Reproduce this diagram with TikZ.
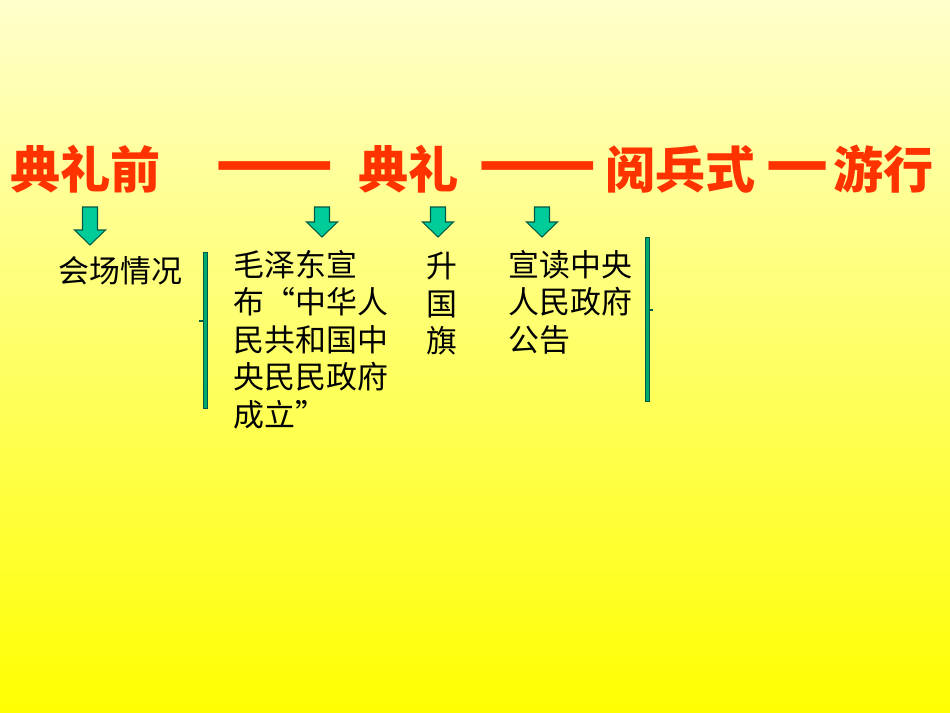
\documentclass[tikz,border=0pt]{standalone}
\usepackage{fontspec}
\newfontfamily\cjk{Noto Sans CJK SC}
\usepackage{tikz}
\usetikzlibrary{positioning,calc}
\definecolor{titlered}{RGB}{255,51,0}
\definecolor{arrowgreen}{RGB}{0,204,153}
\definecolor{arrowline}{RGB}{0,90,70}
\definecolor{bargreen}{RGB}{0,170,110}
\definecolor{bgtop}{RGB}{255,255,204}
\definecolor{bgbottom}{RGB}{255,255,0}
\newcommand\widedash[2]{\scalebox{#1}[1.55]{#2}}
\tikzset{
titletext/.style={font=\cjk\bfseries\fontsize{28.5}{30}\selectfont, text=titlered, inner sep=0pt, anchor=base west},
bodytext/.style={font=\cjk\fontsize{17.6}{21.3}\selectfont, inner sep=0pt, anchor=north west, align=left},
greenarrow/.pic={\draw[arrowline, fill=arrowgreen, line width=0.6pt] (-7.5,0) -- (7.5,0) -- (7.5,#1-15) -- (15.5,#1-15) -- (0,#1) -- (-15.5,#1-15) -- (-7.5,#1-15) -- cycle;},
bracketbar/.style={draw=arrowline, fill=bargreen, line width=0.5pt},
}

\begin{document}
\begin{tikzpicture}[x=0.02cm, y=-0.02cm]
\shade[top color=bgtop, bottom color=bgbottom] (0,0) rectangle (950,713);
\useasboundingbox (0,0) rectangle (950,713);

% title line
\node[titletext] (before) at (10,188) {典礼前};
\node[titletext] (dashA) at (215,188) {\widedash{1.38}{——}};
\node[titletext] (ceremony) at (358,188) {典礼};
\node[titletext] (dashB) at (478,188) {\widedash{1.38}{——}};
\node[titletext] (parade) at (605,188) {阅兵式};
\node[titletext] (march) at (765,188) {\widedash{1.4}{—}\kern2pt游行};

% arrows
\pic at (90,207) {greenarrow=38};
\pic at (322,207) {greenarrow=30};
\pic at (438,207) {greenarrow=30};
\pic at (542,207) {greenarrow=30};

% texts
\node[bodytext] (venue) at (58,256) {会场情况};
\node[bodytext] (announce) at (233,250) {毛泽东宣\\布“中华人\\民共和国中\\央民民政府\\成立”};
\node[bodytext] (flag) at (426,252) {升\\国\\旗};
\node[bodytext] (notice) at (508,250) {宣读中央\\人民政府\\公告};

% brackets
\draw[bracketbar] (203,252) rectangle (207,408);
\draw[arrowline, line width=0.8pt] (203,321) -- (199,321);
\draw[bracketbar] (645,237) rectangle (649,401);
\draw[arrowline, line width=0.8pt] (649,310) -- (653,310);
\end{tikzpicture}
\end{document}
